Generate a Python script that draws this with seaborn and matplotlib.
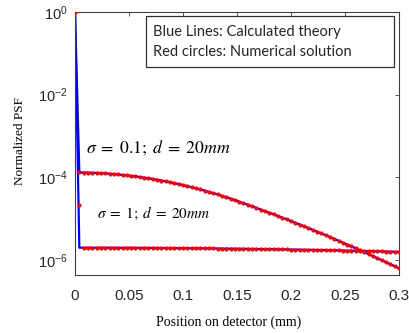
import numpy as np
import pandas as pd
import matplotlib
matplotlib.use("Agg")
import matplotlib.pyplot as plt
import seaborn as sns
from matplotlib.ticker import FixedLocator, FixedFormatter, NullLocator
from matplotlib.patches import Rectangle

# Detector positions (mm), 0.004 mm sampling
position_mm = np.linspace(0.0, 0.3, 76)

# Calculated PSF, sigma = 0.1, d = 20 mm
psf_sigma01 = [
    1.0,
    1.317e-4, 1.312e-4, 1.305e-4, 1.295e-4, 1.282e-4, 1.266e-4, 1.247e-4, 1.226e-4,
    1.203e-4, 1.178e-4, 1.150e-4, 1.121e-4, 1.090e-4, 1.057e-4, 1.023e-4, 9.88e-5,
    9.52e-5, 9.15e-5, 8.78e-5, 8.40e-5, 8.02e-5, 7.64e-5, 7.26e-5, 6.89e-5,
    6.52e-5, 6.15e-5, 5.80e-5, 5.45e-5, 5.11e-5, 4.78e-5, 4.46e-5, 4.16e-5,
    3.86e-5, 3.58e-5, 3.31e-5, 3.06e-5, 2.82e-5, 2.59e-5, 2.37e-5, 2.18e-5,
    2.00e-5, 1.83e-5, 1.67e-5, 1.53e-5, 1.40e-5, 1.28e-5, 1.16e-5, 1.06e-5,
    9.66e-6, 8.79e-6, 7.99e-6, 7.26e-6, 6.58e-6, 5.97e-6, 5.41e-6, 4.90e-6,
    4.43e-6, 4.00e-6, 3.61e-6, 3.26e-6, 2.94e-6, 2.65e-6, 2.38e-6, 2.14e-6,
    1.93e-6, 1.73e-6, 1.55e-6, 1.39e-6, 1.24e-6, 1.11e-6, 9.95e-7, 8.89e-7,
    7.93e-7, 7.08e-7, 6.31e-7,
]

# Calculated PSF, sigma = 1, d = 20 mm
psf_sigma1 = [
    1.0,
    1.995e-6, 1.995e-6, 1.994e-6, 1.994e-6, 1.993e-6, 1.992e-6, 1.991e-6, 1.990e-6,
    1.988e-6, 1.987e-6, 1.985e-6, 1.983e-6, 1.981e-6, 1.979e-6, 1.977e-6, 1.974e-6,
    1.972e-6, 1.969e-6, 1.966e-6, 1.963e-6, 1.959e-6, 1.956e-6, 1.952e-6, 1.949e-6,
    1.945e-6, 1.941e-6, 1.936e-6, 1.932e-6, 1.928e-6, 1.923e-6, 1.918e-6, 1.913e-6,
    1.908e-6, 1.903e-6, 1.898e-6, 1.892e-6, 1.886e-6, 1.881e-6, 1.875e-6, 1.869e-6,
    1.862e-6, 1.856e-6, 1.850e-6, 1.843e-6, 1.836e-6, 1.830e-6, 1.823e-6, 1.816e-6,
    1.808e-6, 1.801e-6, 1.794e-6, 1.786e-6, 1.778e-6, 1.771e-6, 1.763e-6, 1.755e-6,
    1.747e-6, 1.738e-6, 1.730e-6, 1.722e-6, 1.713e-6, 1.704e-6, 1.696e-6, 1.687e-6,
    1.678e-6, 1.669e-6, 1.660e-6, 1.650e-6, 1.641e-6, 1.632e-6, 1.622e-6, 1.613e-6,
    1.603e-6, 1.593e-6, 1.583e-6,
]

# Numerical solution: follows the theory except the first off-axis sample of sigma = 1
num_sigma1_first_sample = 2.14e-5

case_labels = ["sigma=0.1", "sigma=1"]

theory = pd.DataFrame({
    "position": np.concatenate([position_mm, position_mm]),
    "psf": np.concatenate([psf_sigma01, psf_sigma1]),
    "case": np.repeat(case_labels, len(position_mm)),
})

num_sigma1 = list(psf_sigma1)
num_sigma1[1] = num_sigma1_first_sample
numerical = pd.DataFrame({
    "position": np.concatenate([position_mm, position_mm]),
    "psf": np.concatenate([psf_sigma01, num_sigma1]),
    "case": np.repeat(case_labels, len(position_mm)),
})

sns.set_style("white")
plt.rcParams["mathtext.fontset"] = "custom"
plt.rcParams["mathtext.rm"] = "Liberation Sans"
plt.rcParams["mathtext.it"] = "Liberation Sans:italic"
plt.rcParams["font.family"] = ["Liberation Sans", "DejaVu Sans"]

fig = plt.figure(figsize=(4.09, 3.33), dpi=100)
ax = fig.add_axes([0.1834, 0.1742, 0.7922, 0.7898])
ax.set_yscale("log")

sns.lineplot(data=theory, x="position", y="psf", hue="case",
             palette={"sigma=0.1": "#0000ff", "sigma=1": "#0000ff"},
             estimator=None, sort=False, linewidth=1.6, legend=False, ax=ax, zorder=2)
sns.scatterplot(data=numerical, x="position", y="psf", color="#ff0000",
                s=9, linewidth=0, legend=False, ax=ax, zorder=3)

ax.set_xlim(0, 0.3)
ax.set_ylim(10 ** -6.36, 1.0)

frame_color = "#404040"
for sp in ax.spines.values():
    sp.set_visible(True)
    sp.set_color(frame_color)
    sp.set_linewidth(0.8)

xt = [0, 0.05, 0.1, 0.15, 0.2, 0.25, 0.3]
xt_labels = ["0", "0.05", "0.1", "0.15", "0.2", "0.25", "0.3"]
ax.xaxis.set_major_locator(FixedLocator(xt))
ax.xaxis.set_major_formatter(FixedFormatter(xt_labels))
yt = [1e0, 1e-2, 1e-4, 1e-6]
yt_labels = [r"$10^{0}$", r"$10^{-2}$", r"$10^{-4}$", r"$10^{-6}$"]
ax.yaxis.set_major_locator(FixedLocator(yt))
ax.yaxis.set_major_formatter(FixedFormatter(yt_labels))
ax.yaxis.set_minor_locator(NullLocator())
ax.xaxis.set_minor_locator(NullLocator())

ax.tick_params(axis="both", direction="in", length=3, width=0.6, color=frame_color,
               top=True, right=True, labelcolor="#262626")
ax.tick_params(axis="x", labelsize=11, pad=10)
ax.tick_params(axis="y", labelsize=10.5, pad=5)

ax.set_xlabel("Position on detector (mm)", family="Liberation Serif", fontsize=10, color="#000000")
ax.set_ylabel("Normalized PSF", family="Liberation Serif", fontsize=9.5, color="#000000")
ax.xaxis.set_label_coords(0.475, -0.155)
ax.yaxis.set_label_coords(-0.15, 0.51)

# Curve annotations
ax.text(0.034, 0.483, r"$\sigma\;=\;0.1;\;d\;=\;20mm$", transform=ax.transAxes,
        fontsize=12.8, va="center", ha="left", math_fontfamily="stix", color="black")
ax.text(0.068, 0.236, r"$\sigma\;=\;1;\;d\;=\;20mm$", transform=ax.transAxes,
        fontsize=11, va="center", ha="left", math_fontfamily="stix", color="black")

# Description box
ax.add_patch(Rectangle((0.219, 0.791), 0.766, 0.194, transform=ax.transAxes,
                       facecolor="white", edgecolor="#303030", linewidth=0.9, zorder=4))
ax.text(0.241, 0.924, "Blue Lines: Calculated theory", transform=ax.transAxes,
        family="Lato", fontsize=10.5, va="center", ha="left", zorder=5)
ax.text(0.241, 0.848, "Red circles: Numerical solution", transform=ax.transAxes,
        family="Lato", fontsize=10.5, va="center", ha="left", zorder=5)

fig.savefig("out.png", dpi=100)
